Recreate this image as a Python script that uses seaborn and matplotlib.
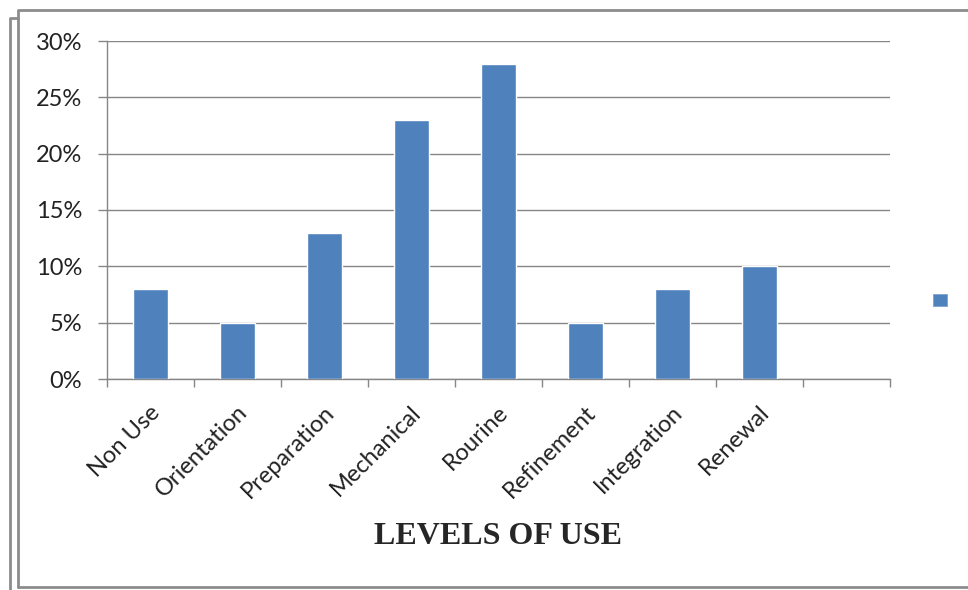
import matplotlib
matplotlib.use("Agg")
import matplotlib.pyplot as plt
import matplotlib.transforms as mtransforms
from matplotlib.patches import Patch
from matplotlib.lines import Line2D
from matplotlib.ticker import FuncFormatter, FixedLocator
import seaborn as sns
import pandas as pd

levels = ["Non Use", "Orientation", "Preparation", "Mechanical", "Rourine",
          "Refinement", "Integration", "Renewal"]
shares = [8, 5, 13, 23, 28, 5, 8, 10]
y_ticks = [0, 5, 10, 15, 20, 25, 30]
axis_title = "LEVELS OF USE"

BAR = "#4F81BD"
GRID = "#868686"
FRAME = "#8C8C8C"

sns.set_theme(style="white")
plt.rcParams["font.family"] = ["Lato", "DejaVu Sans"]

W, H = 968, 590
fig = plt.figure(figsize=(W / 100, H / 100), dpi=100)
ax = fig.add_axes([107 / W, 1 - 379 / H, (890 - 107) / W, (379 - 41) / H])

df = pd.DataFrame({"level": levels, "share": shares})
sns.barplot(data=df, x="level", y="share", order=levels, color=BAR,
            saturation=1, width=0.4, ax=ax, zorder=3)

# nine category slots, the last one left empty
ax.set_xlim(-0.5, 8.5)
ax.set_ylim(0, 30)
ax.yaxis.set_major_locator(FixedLocator(y_ticks))
ax.yaxis.set_major_formatter(FuncFormatter(lambda v, p: f"{v:.0f}%"))
ax.grid(axis="y", color=GRID, linewidth=1.0, zorder=0)
ax.grid(axis="x", visible=False)

for side in ("top", "right"):
    ax.spines[side].set_visible(False)
for side in ("left", "bottom"):
    ax.spines[side].set_color(GRID)
    ax.spines[side].set_linewidth(1.0)

ax.tick_params(axis="y", which="major", length=6.5, width=1, color=GRID,
               labelsize=17, pad=11.5, labelcolor="#222222", left=True)
ax.tick_params(axis="x", which="major", length=0, labelsize=17,
               labelcolor="#222222", pad=4)
ax.set_xticks([i - 0.5 for i in range(10)], minor=True)
ax.tick_params(axis="x", which="minor", length=6, width=1, color=GRID, bottom=True)

ax.set_xlabel("")
ax.set_ylabel("")
ax.set_xticks(range(len(levels)))
ax.set_xticklabels(levels, rotation=45, ha="right", rotation_mode="anchor")
offset = mtransforms.ScaledTranslation(-1 / 100, -17 / 100, fig.dpi_scale_trans)
for lbl in ax.get_xticklabels():
    lbl.set_transform(lbl.get_transform() + offset)

fig.text(498 / W, 1 - 537 / H, axis_title, ha="center", va="center",
         fontsize=23, fontweight="bold", family=["Liberation Serif", "DejaVu Serif"])

# legend entry without a label
fig.legend(handles=[Patch(facecolor=BAR, edgecolor="#7FA3D0", linewidth=0.6)],
           labels=[""], loc="center left",
           bbox_to_anchor=(933 / W, 1 - 300 / H), frameon=False,
           fontsize=10, handlelength=1.0, handleheight=1.0,
           borderpad=0, borderaxespad=0, handletextpad=0)

# page frame with a second sheet offset behind it
def fl(xs, ys, **kw):
    fig.add_artist(Line2D([x / W for x in xs], [1 - y / H for y in ys],
                          transform=fig.transFigure, color=FRAME, **kw))

fl([18, 18, 980], [587, 10, 10], linewidth=2)
fl([18, 980], [587, 587], linewidth=2)
fl([10, 10, 18], [600, 18, 18], linewidth=2)

fig.savefig("out.png", dpi=100)
